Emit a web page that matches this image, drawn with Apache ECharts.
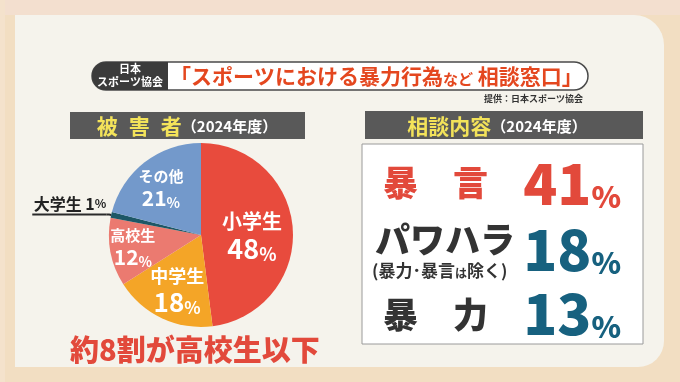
<!DOCTYPE html>
<html><head><meta charset="utf-8">
<style>html,body{margin:0;padding:0;background:#f2dec3;}#c{width:680px;height:382px;}</style>
<script src="https://cdn.jsdelivr.net/npm/echarts@6/dist/echarts.min.js"></script>
</head><body><div id="c"></div>
<script>
// ---- data ----
const victimCategories = ['小学生', '中学生', '高校生', '大学生', 'その他'];
const victimValues = [48, 18, 12, 1, 21];
const consultCategories = ['暴　言', 'パワハラ', '暴　力'];
const consultNotes = ['', ['(暴力･暴言', 'は', '除く)'], ''];
const consultValues = [41, 18, 13];
const mainTitle = ['「スポーツにおける暴力行為', 'など', ' 相談窓口」'];
const sourceText = '提供：日本スポーツ協会';
const orgLines = ['日本', 'スポーツ協会'];
const leftHeader = ['被', '害', '者'];
const yearText = '（2024年度）';
const rightHeader = '相談内容';
const summaryText = '約8割が高校生以下';

// ---- styles ----
const F = '"Noto Sans CJK JP", sans-serif';
const sliceColors = {'小学生': '#e84b3d', '中学生': '#f4a527', '高校生': '#eb7a70', '大学生': '#1d5766', 'その他': '#7399cb'};
const insideSizes = {'小学生': [20, 27, 18], '中学生': [18, 26, 17], '高校生': [15, 21, 14], 'その他': [15, 21, 14]};
const labelShift = {'小学生': [2, 4], '中学生': [-3, 11], '高校生': [-20, 3], 'その他': [-10, -8]};
const consultColors = ['#e2493b', '#17617f', '#17617f'];
const consultTextColors = ['#e2493b', '#333333', '#333333'];
const rowY = [183, 240, 315];
const numY = [184, 250, 314];

const pieData = victimCategories.map((name, i) => {
  const item = {name, value: victimValues[i], itemStyle: {color: sliceColors[name]}};
  if (name === '大学生') {
    item.label = {
      position: 'outside', distanceToLabelLine: 0, align: 'right', padding: [0, 0, 20, 0],
      formatter: '{t|' + name + ' ' + victimValues[i] + '}{p|%}\n{u| }',
      rich: {
        t: {fontFamily: F, fontWeight: 'bold', fontSize: 16, color: '#222', lineHeight: 20, align: 'right'},
        p: {fontFamily: F, fontWeight: 'bold', fontSize: 12, color: '#222', lineHeight: 20, align: 'right'},
        u: {width: 74, height: 2, lineHeight: 2, fontSize: 1, backgroundColor: '#2a2a2a'}
      }
    };
    item.labelLine = {show: true, length: 2, length2: 3, smooth: false, lineStyle: {color: '#2a2a2a', width: 2}};
  } else {
    const s = insideSizes[name];
    item.label = {
      position: 'inside',
      formatter: '{n|' + name + '}\n{v|' + victimValues[i] + '}{p|%}',
      rich: {
        n: {fontFamily: F, fontWeight: 'bold', fontSize: s[0], color: '#fff', lineHeight: s[0] + 5},
        v: {fontFamily: F, fontWeight: 'bold', fontSize: s[1], color: '#fff', lineHeight: s[1] + 2},
        p: {fontFamily: F, fontWeight: 'bold', fontSize: s[2], color: '#fff', lineHeight: s[1] + 2, verticalAlign: 'bottom'}
      }
    };
  }
  return item;
});

const graphics = [
  {type: 'rect', z: -10, shape: {x: 0, y: 0, width: 680, height: 382}, style: {fill: '#f2dec2'}},
  {type: 'rect', z: -9, shape: {x: 0, y: 0, width: 680, height: 15}, style: {fill: '#f3dfcf'}},
  {type: 'rect', z: -9, shape: {x: 0, y: 0, width: 5, height: 382}, style: {fill: '#f4e2cc'}},
  {type: 'rect', z: -8, shape: {x: 15, y: 15, width: 649, height: 352, r: [0, 30, 26, 0]}, style: {fill: '#f5f3ec'}},
  {type: 'rect', z: 1, shape: {x: 92, y: 62, width: 496, height: 28, r: 14}, style: {fill: '#ffffff', stroke: '#4a4a4a', lineWidth: 1.5}},
  {type: 'rect', z: 2, shape: {x: 92, y: 62, width: 76, height: 28, r: [14, 0, 0, 14]}, style: {fill: '#3b3b3b'}},
  {type: 'text', z: 3, style: {x: 130, y: 69, text: orgLines[0], fill: '#fff', font: 'bold 11px ' + F, textAlign: 'center', textVerticalAlign: 'middle'}},
  {type: 'text', z: 3, style: {x: 130, y: 82, text: orgLines[1], fill: '#fff', font: 'bold 11px ' + F, textAlign: 'center', textVerticalAlign: 'middle'}},
  {type: 'text', z: 3, style: {x: 170, y: 76, textVerticalAlign: 'middle',
    text: '{a|' + mainTitle[0] + '}{b|' + mainTitle[1] + '}{a|' + mainTitle[2] + '}',
    rich: {a: {fontFamily: F, fontWeight: 'bold', fontSize: 21, fill: '#e4471f'},
           b: {fontFamily: F, fontWeight: 'bold', fontSize: 15, fill: '#e4471f', verticalAlign: 'bottom'}}}},
  {type: 'text', z: 3, style: {x: 583, y: 99, text: sourceText, fill: '#333', font: 'bold 9px ' + F, textAlign: 'right', textVerticalAlign: 'middle'}},
  {type: 'rect', z: 1, shape: {x: 70, y: 112, width: 235, height: 27}, style: {fill: '#595959'}},
  {type: 'text', z: 3, style: {x: 187, y: 126, textAlign: 'center', textVerticalAlign: 'middle',
    text: leftHeader.map(c => '{a|' + c + '}').join('{s| }') + '{b|' + yearText + '}',
    rich: {a: {fontFamily: F, fontWeight: 'bold', fontSize: 21, fill: '#f3e35a'},
           s: {width: 11, fontSize: 10},
           b: {fontFamily: F, fontWeight: 'bold', fontSize: 15, fill: '#fff'}}}},
  {type: 'rect', z: 1, shape: {x: 365, y: 111, width: 278, height: 28}, style: {fill: '#595959'}},
  {type: 'text', z: 3, style: {x: 497, y: 126, textAlign: 'center', textVerticalAlign: 'middle',
    text: '{a|' + rightHeader + '}{b|' + yearText + '}',
    rich: {a: {fontFamily: F, fontWeight: 'bold', fontSize: 21, fill: '#f3e35a'},
           b: {fontFamily: F, fontWeight: 'bold', fontSize: 15, fill: '#fff'}}}},
  {type: 'rect', z: 1, shape: {x: 362, y: 144, width: 281, height: 200}, style: {fill: '#ffffff', stroke: '#9a9a9a', lineWidth: 1}},
  {type: 'text', z: 3, style: {x: 70, y: 350, text: summaryText, fill: '#e2493b', font: '900 29px ' + F, textVerticalAlign: 'middle'}}
];

consultCategories.forEach((c, i) => {
  graphics.push({type: 'text', z: 3, style: {x: c.length === 4 ? 375 : 383, y: rowY[i], text: c, fill: consultTextColors[i],
    font: '900 35px ' + F, textVerticalAlign: 'middle'}});
  const note = consultNotes[i];
  if (note) {
    graphics.push({type: 'text', z: 3, style: {x: 372, y: 271, textVerticalAlign: 'middle',
      text: '{n|' + note[0] + '}{s|' + note[1] + '}{n|' + note[2] + '}',
      rich: {n: {fontFamily: F, fontWeight: 'bold', fontSize: 17, fill: '#333'},
             s: {fontFamily: F, fontWeight: 'bold', fontSize: 12, fill: '#333', verticalAlign: 'bottom'}}}});
  }
  graphics.push({type: 'text', z: 3, style: {x: 621, y: numY[i], textAlign: 'right', textVerticalAlign: 'middle',
    text: '{v|' + consultValues[i] + '}{p|%}',
    rich: {v: {fontFamily: F, fontWeight: 900, fontSize: 56, fill: consultColors[i], lineHeight: 56},
           p: {fontFamily: F, fontWeight: 900, fontSize: 30, fill: consultColors[i], lineHeight: 44, verticalAlign: 'bottom'}}}});
});

const chart = echarts.init(document.getElementById('c'), null, {renderer: 'canvas'});
chart.setOption({
  animation: false,
  backgroundColor: 'transparent',
  graphic: {elements: graphics},
  series: [{
    type: 'pie',
    center: [201, 235],
    radius: 92,
    startAngle: 90,
    clockwise: true,
    avoidLabelOverlap: false,
    silent: true,
    label: {show: true, position: 'inside'},
    labelLine: {show: false},
    labelLayout: function (p) {
      const sh = labelShift[victimCategories[p.dataIndex]];
      return sh ? {dx: sh[0], dy: sh[1]} : {};
    },
    data: pieData
  }]
});
</script></body></html>
